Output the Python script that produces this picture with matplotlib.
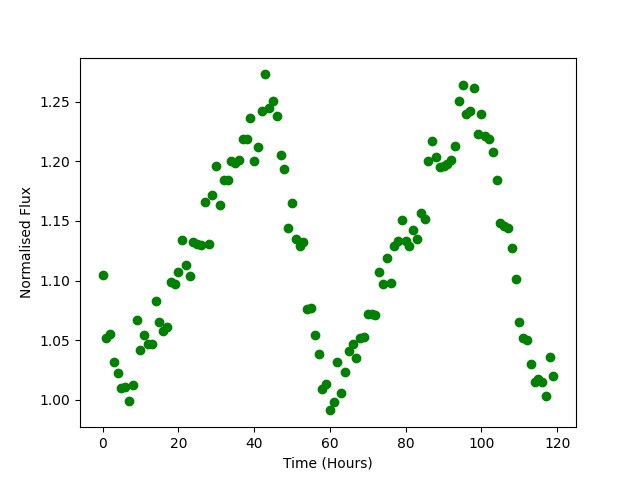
import matplotlib
matplotlib.use("Agg")
import matplotlib.pyplot as plt

hours = list(range(120))
flux = [
    1.105, 1.052, 1.055, 1.032, 1.022, 1.010, 1.011, 0.999, 1.012, 1.067,
    1.042, 1.054, 1.047, 1.047, 1.083, 1.065, 1.058, 1.061, 1.099, 1.097,
    1.107, 1.134, 1.113, 1.104, 1.132, 1.131, 1.130, 1.166, 1.131, 1.172,
    1.196, 1.163, 1.184, 1.184, 1.200, 1.199, 1.201, 1.219, 1.219, 1.236,
    1.200, 1.212, 1.242, 1.273, 1.245, 1.251, 1.238, 1.205, 1.194, 1.144,
    1.165, 1.135, 1.129, 1.132, 1.076, 1.077, 1.054, 1.038, 1.009, 1.013,
    0.991, 0.998, 1.032, 1.006, 1.023, 1.041, 1.047, 1.035, 1.052, 1.053,
    1.072, 1.072, 1.071, 1.107, 1.097, 1.119, 1.098, 1.129, 1.133, 1.151,
    1.133, 1.129, 1.142, 1.135, 1.157, 1.152, 1.200, 1.217, 1.204, 1.195,
    1.196, 1.198, 1.201, 1.213, 1.251, 1.264, 1.240, 1.242, 1.262, 1.223,
    1.240, 1.221, 1.219, 1.208, 1.184, 1.148, 1.146, 1.144, 1.127, 1.101,
    1.065, 1.052, 1.050, 1.030, 1.015, 1.017, 1.015, 1.003, 1.036, 1.020,
]

fig, ax = plt.subplots(figsize=(6.4, 4.8), dpi=100)
ax.plot(hours, flux, 'o', color='green')
ax.set_xlabel('Time (Hours)')
ax.set_ylabel('Normalised Flux')
fig.savefig('out.png')
